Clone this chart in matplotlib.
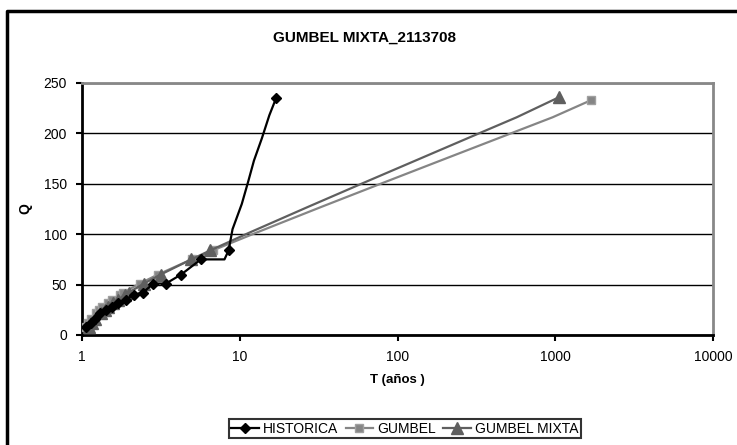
import matplotlib
matplotlib.use('Agg')
import matplotlib.pyplot as plt
from matplotlib.lines import Line2D

plt.rcParams['font.family'] = ['Liberation Sans', 'DejaVu Sans']

# HISTORICA: return period and observed flows (last entries: unmarked line vertices)
hist_T = [1.0625, 1.133, 1.214, 1.308, 1.417, 1.545, 1.7, 1.889, 2.125, 2.429,
          2.833, 3.4, 4.25, 5.667, 8.0, 8.5, 9.0, 10.3, 11.3, 12.3, 13.8, 15.4, 17.0]
hist_Q = [8, 12, 16, 22, 25, 28, 32, 35, 40, 42,
          51, 51, 60, 75, 75, 84, 105, 130, 152, 173, 195, 218, 235]
hist_marked = [0, 1, 2, 3, 4, 5, 6, 7, 8, 9, 10, 11, 12, 13, 15, 22]

# GUMBEL
gum_T = [1.058, 1.090, 1.133, 1.222, 1.279, 1.347, 1.453, 1.548, 1.736, 1.823,
         2.32, 3.03, 4.95, 6.76, 12.5, 32.8, 78.1, 187, 449, 963, 1690]
gum_Q = [8, 12, 16, 22, 25, 28, 32, 35, 40, 42,
         51, 60, 75, 84, 101, 127, 150, 173, 196, 216, 233]
gum_marked = list(range(14)) + [20]

# GUMBEL MIXTA
mix_T = [1.113, 1.158, 1.214, 1.322, 1.389, 1.465, 1.582, 1.683, 1.880, 1.971,
         2.469, 3.155, 4.93, 6.52, 11.3, 27.0, 59.0, 129.9, 286, 570, 1060]
mix_Q = [8, 12, 16, 22, 25, 28, 32, 35, 40, 42,
         51, 60, 75, 84, 101, 127, 150, 173, 196, 216, 236]
mix_marked = list(range(14)) + [20]

x_ticks = [1, 10, 100, 1000, 10000]
x_labels = ['1', '10', '100', '1000', '10000']
y_ticks = [0, 50, 100, 150, 200, 250]

fig = plt.figure(figsize=(7.37, 4.45), dpi=100)
ax = fig.add_axes([0.1113, 0.2472, 0.8561, 0.5663])

ax.plot(hist_T, hist_Q, color='black', lw=1.6, marker='D', ms=5.5,
        markevery=hist_marked, label='HISTORICA', zorder=4)
ax.plot(gum_T, gum_Q, color='#858585', lw=1.6, marker='s', ms=6,
        mfc='#858585', mec='#a0a0a0', markevery=gum_marked, label='GUMBEL', zorder=3)
ax.plot(mix_T, mix_Q, color='#5f5f5f', lw=1.6, marker='^', ms=8,
        markevery=mix_marked, label='GUMBEL MIXTA', zorder=3)

ax.set_xscale('log')
ax.set_xlim(1, 10000)
ax.set_ylim(0, 250)
ax.set_xticks(x_ticks)
ax.set_xticklabels(x_labels)
ax.minorticks_off()
ax.set_yticks(y_ticks)
ax.yaxis.grid(True, color='black', lw=1.0)
ax.set_axisbelow(True)

for s in ['top', 'right']:
    ax.spines[s].set_color('#888888')
    ax.spines[s].set_linewidth(2)
for s in ['left', 'bottom']:
    ax.spines[s].set_color('black')
    ax.spines[s].set_linewidth(2)
ax.tick_params(direction='out', length=4, width=1.5, labelsize=10, pad=7)

ax.set_xlabel('T (años )', fontsize=9.5, fontweight='bold', labelpad=7)
ax.set_ylabel('Q', fontsize=10, fontweight='bold', labelpad=8)
fig.text(0.495, 0.915, 'GUMBEL MIXTA_2113708', ha='center', va='center',
         fontsize=11, fontweight='bold')

leg = fig.legend(loc='center', bbox_to_anchor=(0.5495, 0.037), ncol=3,
                 fontsize=10, frameon=True, fancybox=False, handlelength=2.0,
                 handletextpad=0.3, columnspacing=0.5, borderpad=0.2)
leg.get_frame().set_edgecolor('black')
leg.get_frame().set_linewidth(1.5)

# outer chart frame (clipped at right and bottom)
fig.add_artist(Line2D([0.0095, 0.0095, 1.0], [0.0, 0.975, 0.975],
                      transform=fig.transFigure, color='black', lw=2.5))

fig.savefig('out.png', dpi=100)
plt.close(fig)
